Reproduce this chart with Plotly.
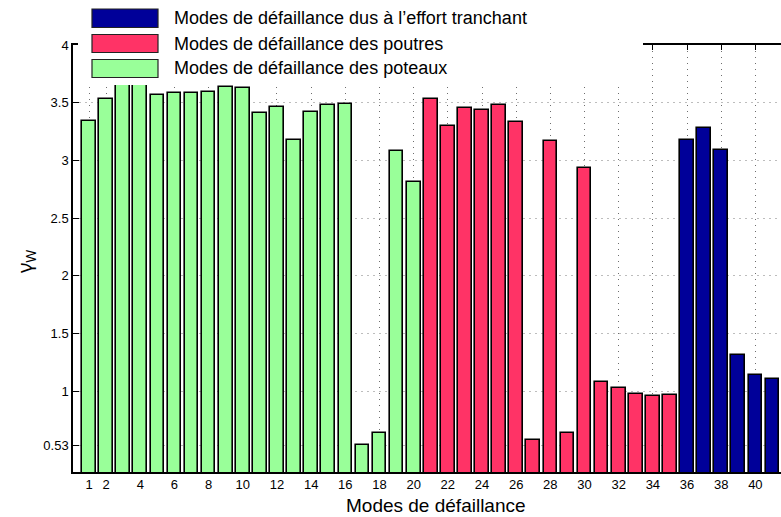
import plotly.graph_objects as go

# Failure modes and their gamma_W values, grouped by element type
modes_poteaux = list(range(1, 21))
gamma_poteaux = [3.34, 3.53, 3.66, 3.66, 3.57, 3.58, 3.58, 3.59, 3.64, 3.63,
                 3.41, 3.46, 3.18, 3.42, 3.48, 3.49, 0.53, 0.64, 3.08, 2.81]

modes_poutres = list(range(21, 36))
gamma_poutres = [3.53, 3.30, 3.45, 3.44, 3.48, 3.33, 0.58, 3.17, 0.64, 2.93,
                 1.08, 1.03, 0.98, 0.96, 0.97]

modes_effort = list(range(36, 42))
gamma_effort = [3.18, 3.28, 3.09, 1.31, 1.14, 1.11]

legend_labels = [
    "Modes de défaillance dus à l’effort tranchant",
    "Modes de défaillance des poutres",
    "Modes de défaillance des poteaux",
]
colors = ["#000099", "#FF3366", "#99FF99"]

x_tickvals = [1] + list(range(2, 41, 2))
y_tickvals = [0.53, 1, 1.5, 2, 2.5, 3, 3.5, 4]
y_ticktext = ["0.53", "1", "1.5", "2", "2.5", "3", "3.5", "4"]

FONT = "Liberation Sans, Arial, Helvetica, sans-serif"
W, H = 781, 517
L, R, T, B = 73, 0, 45, 45
PW, PH = W - L - R, H - T - B


def px(x):
    return (x - L) / PW


def py(y):
    return (H - B - y) / PH


fig = go.Figure()
for xs, ys, c in [(modes_poteaux, gamma_poteaux, colors[2]),
                  (modes_poutres, gamma_poutres, colors[1]),
                  (modes_effort, gamma_effort, colors[0])]:
    fig.add_trace(go.Bar(x=xs, y=ys, width=0.8, marker_color=c,
                         marker_line_color="black", marker_line_width=1.6,
                         showlegend=False))

shapes = []
annotations = []
# legend panel (opaque, covers the upper part of the axes box)
shapes.append(dict(type="rect", xref="paper", yref="paper",
                   x0=px(78), x1=px(643), y0=py(85), y1=py(0),
                   fillcolor="white", line_width=0, layer="above"))
box_rows = [(9, 27.5), (34.5, 52.5), (59.5, 77.5)]
for (y0, y1), lab, c in zip(box_rows, legend_labels, colors):
    shapes.append(dict(type="rect", xref="paper", yref="paper",
                       x0=px(92), x1=px(158), y0=py(y1), y1=py(y0),
                       fillcolor=c, line=dict(color="#222", width=1.2),
                       layer="above"))
    annotations.append(dict(xref="paper", yref="paper", x=px(172),
                            y=py((y0 + y1) / 2), text=lab, showarrow=False,
                            xanchor="left", yanchor="middle",
                            font=dict(family=FONT, size=18, color="black")))

# axis titles
annotations.append(dict(xref="paper", yref="paper", x=px(436), y=py(505),
                        text="Modes de défaillance", showarrow=False,
                        xanchor="center", yanchor="middle",
                        font=dict(family=FONT, size=19, color="black")))
annotations.append(dict(xref="paper", yref="paper", x=px(25), y=py(262),
                        text="γ<sub>W</sub>", showarrow=False, textangle=-90,
                        xanchor="center", yanchor="middle",
                        font=dict(family="Noto Sans, sans-serif", size=20,
                                  color="black")))

fig.update_layout(
    width=W, height=H,
    margin=dict(l=L, r=R, t=T, b=B, pad=0),
    paper_bgcolor="white", plot_bgcolor="white",
    bargap=0,
    shapes=shapes, annotations=annotations,
    font=dict(family=FONT, size=13, color="black"),
    xaxis=dict(range=[0.06, 41.5], tickvals=x_tickvals,
               ticktext=[str(v) for v in x_tickvals],
               ticks="inside", ticklen=5, tickcolor="black", tickwidth=1,
               showline=True, linecolor="black", linewidth=1.5,
               mirror="ticks", layer="below traces",
               showgrid=True, gridcolor="#6e6e6e", griddash="1px,5px",
               gridwidth=1, zeroline=False, tickfont=dict(size=13)),
    yaxis=dict(range=[0.3, 4.0], tickvals=y_tickvals, ticktext=y_ticktext,
               ticks="inside", ticklen=6, tickcolor="black", tickwidth=1,
               showline=True, linecolor="black", linewidth=1.5,
               mirror=False, layer="below traces",
               showgrid=True, gridcolor="#bdbdbd", griddash="2px,4px",
               gridwidth=1, zeroline=False, tickfont=dict(size=13)),
)

fig.write_html("out.html")
